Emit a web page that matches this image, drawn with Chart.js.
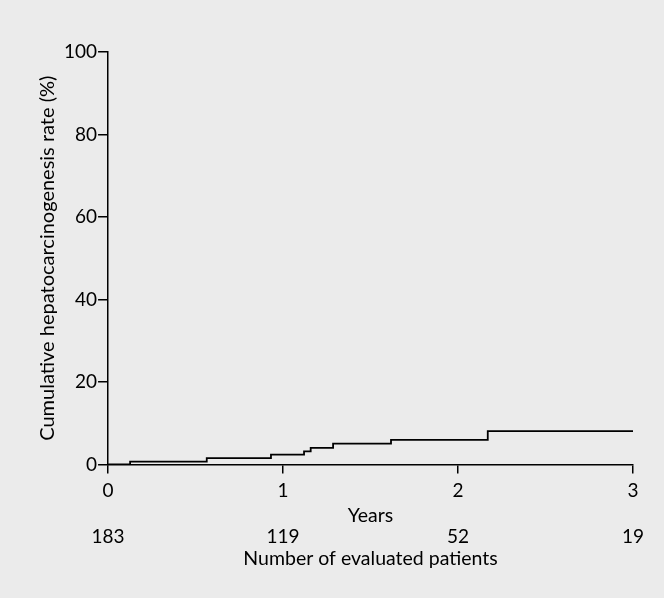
<!DOCTYPE html>
<html>
<head>
<meta charset="utf-8">
<script src="https://cdn.jsdelivr.net/npm/chart.js@4/dist/chart.umd.min.js"></script>
<style>
  html, body { margin: 0; padding: 0; background: #ebebeb; }
  #wrap { width: 664px; height: 598px; }
</style>
</head>
<body>
<div id="wrap"><canvas id="myChart"></canvas></div>
<script>
// step points of the cumulative curve (years, %)
var stepYears = [0, 0.126, 0.564, 0.931, 1.12, 1.158, 1.286, 1.617, 2.17, 3.0];
var stepRates = [0, 0.66, 1.54, 2.37, 3.18, 3.99, 5.06, 5.94, 8.07, 8.07];

// number at risk row
var riskYears = [0, 1, 2, 3];
var riskCounts = [183, 119, 52, 19];

var yTicks = [0, 20, 40, 60, 80, 100];

var points = stepYears.map(function (x, i) { return { x: x, y: stepRates[i] }; });
var fontFam = "Lato, 'Noto Sans', sans-serif";
var ink = "#000";

Chart.defaults.font.family = fontFam;
Chart.defaults.color = ink;

new Chart("myChart", {
  type: "line",
  data: {
    datasets: [{
      data: points,
      stepped: "before",
      borderColor: ink,
      borderWidth: 1.8,
      pointRadius: 0,
      fill: false
    }]
  },
  options: {
    responsive: true,
    maintainAspectRatio: false,
    animation: false,
    layout: { padding: { top: 52, right: 31, left: 36, bottom: 30 } },
    plugins: { legend: { display: false }, tooltip: { enabled: false } },
    scales: {
      x: {
        type: "linear", position: "bottom", weight: 0,
        min: 0, max: 3,
        border: { color: ink, width: 1.5 },
        grid: { drawOnChartArea: false, tickLength: 9, color: ink, lineWidth: 1.5 },
        ticks: { stepSize: 1, font: { size: 19 }, padding: 6 },
        title: { display: true, text: "Years", font: { size: 19.5, lineHeight: 1.0 }, padding: { top: -2, bottom: 0 } }
      },
      x2: {
        type: "linear", position: "bottom", weight: 1,
        min: 0, max: 3,
        border: { display: false },
        grid: { display: false, drawTicks: false },
        afterBuildTicks: function (axis) {
          axis.ticks = riskYears.map(function (v) { return { value: v }; });
        },
        ticks: {
          font: { size: 19 }, padding: 0,
          callback: function (v) { return riskCounts[riskYears.indexOf(v)]; }
        },
        title: { display: true, text: "Number of evaluated patients", font: { size: 19.5, lineHeight: 1.0 }, padding: { top: 0, bottom: 0 } }
      },
      y: {
        min: 0, max: 100,
        border: { color: ink, width: 1.5 },
        grid: { drawOnChartArea: false, tickLength: 10, color: ink, lineWidth: 1.5 },
        afterBuildTicks: function (axis) {
          axis.ticks = yTicks.map(function (v) { return { value: v }; });
        },
        ticks: { font: { size: 19 }, padding: 1 },
        title: { display: true, text: "Cumulative hepatocarcinogenesis rate (%)", font: { size: 20 }, padding: { top: 0, bottom: 3 } }
      }
    }
  }
});
</script>
</body>
</html>
